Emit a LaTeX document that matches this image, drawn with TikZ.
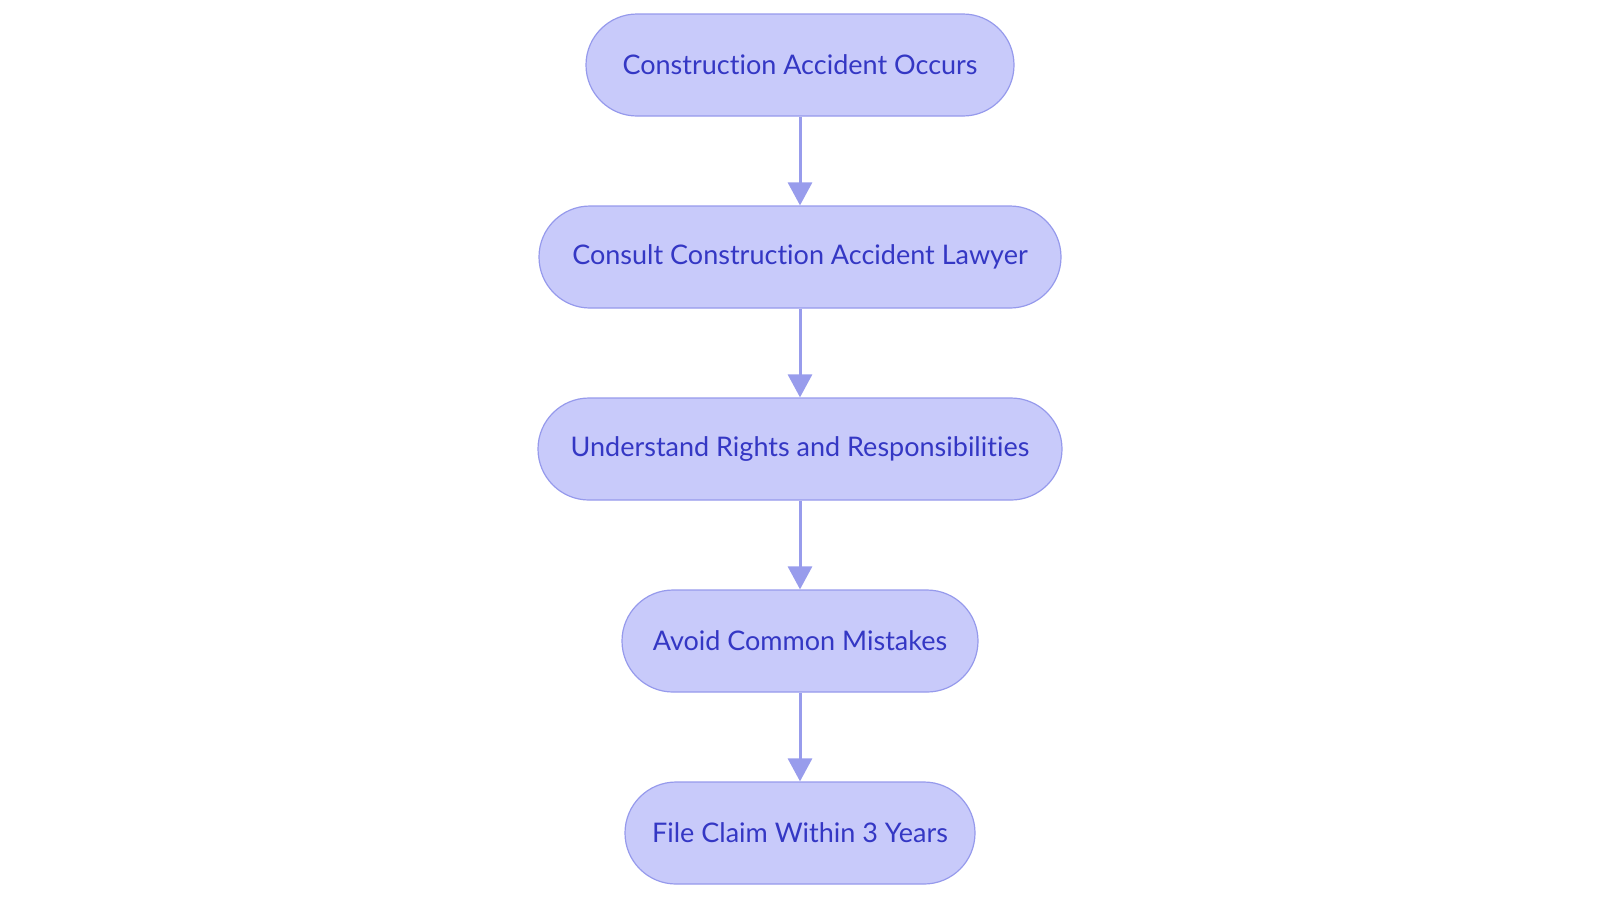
\documentclass[tikz,border=0pt]{standalone}
\usepackage{fontspec}
\setmainfont{Lato}[Ligatures={NoCommon}]
\usetikzlibrary{positioning,arrows.meta}
\definecolor{boxfill}{RGB}{200,202,250}
\definecolor{boxline}{RGB}{150,154,236}
\definecolor{boxtext}{RGB}{52,55,196}
\definecolor{arrowcol}{RGB}{152,156,236}
\tikzset{
  stepbox/.style={draw=boxline, fill=boxfill, text=boxtext, line width=0.6pt,
    rounded corners=25.5pt, minimum height=51pt, inner xsep=0pt,
    font=\fontsize{13.5pt}{16pt}\selectfont},
  flow/.style={draw=arrowcol, line width=1.5pt,
    -{Triangle[width=12pt,length=11.5pt]}},
}
\begin{document}
\begin{tikzpicture}
      \useasboundingbox (0,0) rectangle (800pt,-451pt);
      \node[stepbox, minimum width=214pt] (a) at (400pt,-32.5pt) {Construction Accident Occurs};
      \node[stepbox, minimum width=261pt, below=44.4pt of a] (b) {Consult Construction Accident Lawyer};
      \node[stepbox, minimum width=262pt, below=44.4pt of b] (c) {Understand Rights and Responsibilities};
      \node[stepbox, minimum width=178pt, below=44.4pt of c] (d) {Avoid Common Mistakes};
      \node[stepbox, minimum width=175pt, below=44.4pt of d] (e) {File Claim Within 3 Years};
      \draw[flow] (a) to (b);
      \draw[flow] (b) to (c);
      \draw[flow] (c) to (d);
      \draw[flow] (d) to (e);
    \end{tikzpicture}
\end{document}
